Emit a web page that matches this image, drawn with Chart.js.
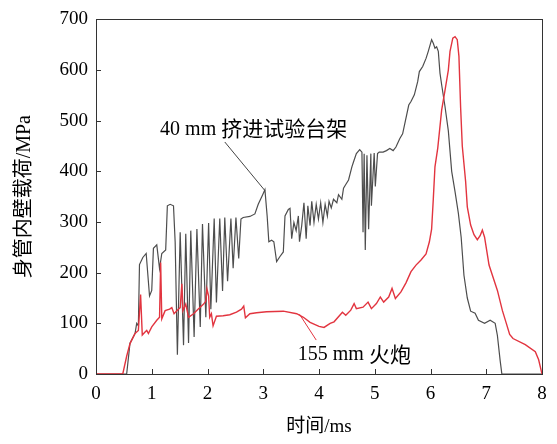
<!DOCTYPE html>
<html>
<head>
<meta charset="utf-8">
<script src="https://cdn.jsdelivr.net/npm/chart.js@4"></script>
<style>
html,body{margin:0;padding:0;background:#fff;}
canvas{display:block;}
</style>
</head>
<body>
<canvas id="c" width="557" height="444"></canvas>
<script>
// ---- Data (time in ms, load in MPa) ----
const gunLabel = '155 mm 火炮';
const rigLabel = '40 mm 挤进试验台架';

const rigTime = [0,0.55,0.61,0.70,0.73,0.76,0.78,0.84,0.90,0.96,1.00,1.03,1.09,1.14,1.18,1.25,1.28,1.33,1.39,1.42,1.46,1.51,1.57,1.61,1.66,1.70,1.76,1.81,1.87,1.91,1.97,2.02,2.06,2.12,2.16,2.22,2.27,2.31,2.36,2.42,2.46,2.51,2.56,2.60,2.64,2.76,2.85,2.91,2.99,3.03,3.07,3.10,3.15,3.19,3.24,3.30,3.36,3.39,3.45,3.48,3.51,3.55,3.59,3.63,3.65,3.69,3.73,3.77,3.80,3.84,3.87,3.91,3.95,3.99,4.03,4.07,4.11,4.15,4.18,4.22,4.26,4.32,4.35,4.41,4.44,4.48,4.53,4.59,4.62,4.67,4.73,4.77,4.79,4.81,4.83,4.86,4.89,4.93,4.94,4.99,5.01,5.05,5.08,5.15,5.21,5.27,5.33,5.38,5.45,5.50,5.61,5.65,5.71,5.77,5.80,5.86,5.92,5.96,6.02,6.05,6.08,6.11,6.14,6.17,6.20,6.26,6.32,6.38,6.44,6.50,6.55,6.60,6.66,6.72,6.80,6.86,6.97,7.07,7.16,7.20,7.25,7.28,8.00];
const rigLoad = [0,0,61,80,100,95,216,230,238,154,165,248,255,208,238,245,332,335,332,260,38,280,57,277,61,283,73,286,93,296,112,298,128,307,141,307,164,309,183,307,209,309,228,306,309,311,316,335,354,364,312,261,264,261,222,232,241,312,325,327,267,299,283,312,261,293,338,267,332,293,341,299,335,306,338,299,335,312,341,328,345,338,354,345,367,374,383,409,419,435,443,438,280,435,245,432,286,435,332,436,370,435,438,438,441,445,441,448,465,474,531,538,551,577,597,607,623,637,660,653,643,646,637,594,571,528,480,400,360,317,270,195,150,124,120,106,100,106,100,76,26,0,0];

const gunTime = [0,0.48,0.55,0.61,0.70,0.76,0.80,0.83,0.88,0.91,0.94,1.00,1.09,1.14,1.16,1.18,1.24,1.32,1.36,1.40,1.45,1.51,1.54,1.56,1.61,1.66,1.75,1.83,1.93,1.97,1.99,2.02,2.04,2.07,2.10,2.16,2.28,2.40,2.52,2.61,2.65,2.68,2.76,2.88,3.06,3.36,3.60,3.72,3.84,4.00,4.09,4.20,4.27,4.42,4.48,4.57,4.63,4.67,4.79,4.88,4.94,5.03,5.10,5.16,5.25,5.31,5.37,5.47,5.56,5.65,5.74,5.83,5.92,5.98,6.02,6.05,6.08,6.13,6.20,6.26,6.32,6.35,6.40,6.44,6.48,6.51,6.54,6.57,6.63,6.66,6.72,6.78,6.84,6.89,6.93,6.97,7.05,7.11,7.20,7.29,7.36,7.42,7.48,7.70,7.88,7.94,8.00];
const gunLoad = [0,0,35,60,80,86,157,77,83,86,80,93,106,112,220,109,125,128,131,119,125,131,178,125,138,112,119,128,138,144,168,154,112,119,95,114,115,117,122,128,134,111,119,121,123,124,119,112,102,94,92,100,103,122,116,126,139,129,132,142,129,139,152,142,152,169,149,162,180,202,215,225,237,261,286,345,409,446,521,560,600,637,663,666,660,627,527,450,380,330,294,275,265,273,284,270,215,195,165,125,100,78,70,58,44,28,0];

const xTicks = [0,1,2,3,4,5,6,7,8];
const yTicks = [0,100,200,300,400,500,600,700];
const xTitle = '时间/ms';
const yTitle = '身管内壁载荷/MPa';

// annotation anchors in data coordinates
const rigNote = {text: rigLabel, at: [1.15, 483], from: [2.31, 458], to: [3.03, 362]};
const gunNote = {text: gunLabel, at: [3.62, 38], from: [3.65, 118], to: [3.95, 67]};

const toPts = (t, v) => t.map((x, i) => ({x, y: v[i]}));

const serif = "'Liberation Serif','Times New Roman','Noto Sans CJK SC',serif";
const cjk = "'Noto Sans CJK SC',sans-serif";

function drawMixed(ctx, text, x, y) {
  const parts = text.split(/([\u4e00-\u9fff]+)/).filter(s => s.length);
  let cx = x;
  parts.forEach(p => {
    const isCjk = /[\u4e00-\u9fff]/.test(p);
    ctx.font = isCjk ? ("21px " + cjk) : ("20px " + serif);
    ctx.fillText(p, cx, isCjk ? y - 1 : y);
    cx += ctx.measureText(p).width + (isCjk ? 0 : 0);
    if (isCjk) cx += 0;
  });
}

const framePlugin = {
  id: 'frame',
  afterDatasetsDraw(chart) {
    const {ctx, chartArea: a, scales: {x, y}} = chart;
    ctx.save();
    ctx.strokeStyle = '#333';
    ctx.lineWidth = 1;
    ctx.beginPath();
    xTicks.slice(1, -1).forEach(v => {
      const px = Math.round(x.getPixelForValue(v)) + 0.5;
      ctx.moveTo(px, a.bottom); ctx.lineTo(px, a.bottom - 5);
    });
    yTicks.slice(1, -1).forEach(v => {
      const py = Math.round(y.getPixelForValue(v)) + 0.5;
      ctx.moveTo(a.left, py); ctx.lineTo(a.left + 5, py);
    });
    ctx.stroke();
    ctx.strokeRect(Math.round(a.left) + 0.5, Math.round(a.top) + 0.5, Math.round(a.right - a.left), Math.round(a.bottom - a.top));

    // annotations
    ctx.fillStyle = '#000';
    ctx.textBaseline = 'middle';
    ctx.textAlign = 'left';
    [rigNote, gunNote].forEach(n => {
      drawMixed(ctx, n.text, x.getPixelForValue(n.at[0]), y.getPixelForValue(n.at[1]));
    });
    ctx.lineWidth = 1;
    ctx.strokeStyle = '#444';
    ctx.beginPath();
    ctx.moveTo(x.getPixelForValue(rigNote.from[0]), y.getPixelForValue(rigNote.from[1]));
    ctx.lineTo(x.getPixelForValue(rigNote.to[0]), y.getPixelForValue(rigNote.to[1]));
    ctx.stroke();
    ctx.strokeStyle = '#e2343f';
    ctx.beginPath();
    ctx.moveTo(x.getPixelForValue(gunNote.from[0]), y.getPixelForValue(gunNote.from[1]));
    ctx.lineTo(x.getPixelForValue(gunNote.to[0]), y.getPixelForValue(gunNote.to[1]));
    ctx.stroke();
    ctx.restore();
  }
};

new Chart(document.getElementById('c'), {
  type: 'line',
  data: {
    datasets: [
      {label: gunLabel, data: toPts(gunTime, gunLoad), borderColor: '#e2343f', borderWidth: 1.4, pointRadius: 0, tension: 0, order: 0},
      {label: rigLabel, data: toPts(rigTime, rigLoad), borderColor: '#4d4d4d', borderWidth: 1.2, pointRadius: 0, tension: 0, order: 1}
    ]
  },
  options: {
    responsive: false,
    animation: false,
    devicePixelRatio: 1,
    layout: {padding: {top: 13, right: 15, left: 0, bottom: 0}},
    plugins: {legend: {display: false}, tooltip: {enabled: false}},
    scales: {
      x: {
        type: 'linear', min: 0, max: 8,
        afterBuildTicks: s => { s.ticks = xTicks.map(v => ({value: v})); },
        grid: {display: false, drawTicks: false},
        border: {display: false},
        ticks: {color: '#000', font: {family: serif, size: 19}, padding: 9, maxRotation: 0},
        title: {display: true, text: xTitle, color: '#000', font: {family: serif, size: 19}, padding: {top: 0, bottom: 6}},
        afterFit: s => { s.height = 70; }
      },
      y: {
        min: 0, max: 700,
        afterBuildTicks: s => { s.ticks = yTicks.map(v => ({value: v})); },
        grid: {display: false, drawTicks: false},
        border: {display: false},
        ticks: {color: '#000', font: {family: serif, size: 19}, padding: 8},
        title: {display: true, text: yTitle, color: '#000', font: {family: serif, size: 20}, padding: {top: 13, bottom: 0}},
        afterFit: s => { s.width = 96; }
      }
    }
  },
  plugins: [framePlugin]
});
</script>
</body>
</html>
